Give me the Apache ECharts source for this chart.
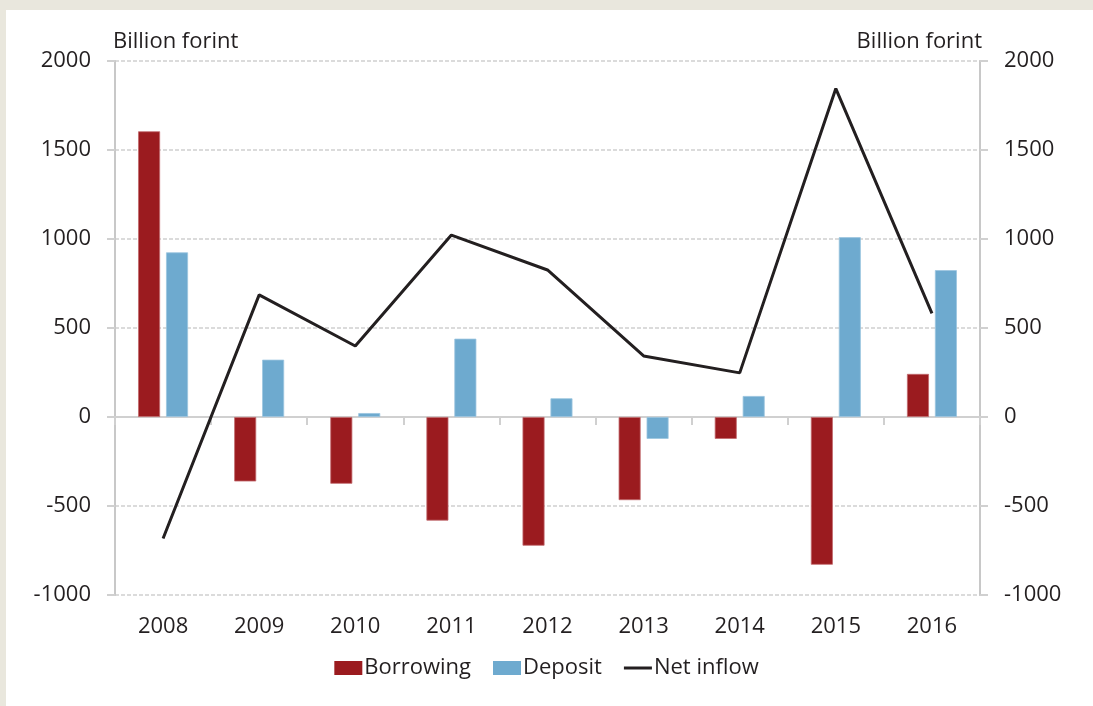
<!DOCTYPE html>
<html>
<head>
<meta charset="utf-8">
<script src="https://cdn.jsdelivr.net/npm/echarts@6/dist/echarts.min.js"></script>
<style>
  html, body { margin:0; padding:0; background:#e9e7dd; width:1093px; height:706px; overflow:hidden; }
  #panel { position:absolute; left:6px; top:10px; width:1087px; height:696px; background:#ffffff; }
  #chart { position:absolute; left:0; top:0; width:1093px; height:706px; }
</style>
</head>
<body>
<div id="panel"></div>
<div id="chart"></div>
<script>
const categories = ['2008','2009','2010','2011','2012','2013','2014','2015','2016'];
const borrowing = [1605, -362, -375, -582, -723, -467, -123, -830, 242];
const deposit = [925, 322, 22, 440, 105, -123, 118, 1010, 825];
const netInflow = [-683, 686, 399, 1022, 826, 343, 248, 1845, 582];
const yTicks = { min: -1000, max: 2000, interval: 500 };
const unitLabel = 'Billion forint';

const FONT = '"Open Sans", sans-serif';
const plain = v => String(v);
const chart = echarts.init(document.getElementById('chart'), null, { renderer: 'canvas' });
chart.setOption({
  backgroundColor: 'transparent',
  textStyle: { fontFamily: FONT },
  grid: { left: 115, right: 113, top: 61, bottom: 111, containLabel: false },
  legend: {
    bottom: 22,
    left: 'center',
    itemWidth: 28,
    itemHeight: 14,
    itemGap: 22,
    symbolKeepAspect: true,
    itemStyle: { borderWidth: 0 },
    textStyle: { fontFamily: FONT, fontSize: 22, color: '#231f20', padding: [0, 0, 0, -3] },
    data: [
      { name: 'Borrowing', icon: 'rect' },
      { name: 'Deposit', icon: 'rect' },
      { name: 'Net inflow', icon: 'path://M0,0L28,0L28,3L0,3Z' }
    ]
  },
  graphic: [
    { type: 'text', left: 113, top: 31, style: { text: unitLabel, font: '22px "Open Sans"', fill: '#231f20' } },
    { type: 'text', right: 1093 - 982, top: 31, style: { text: unitLabel, font: '22px "Open Sans"', fill: '#231f20', align: 'right' } }
  ],
  xAxis: [
    {
      type: 'category', data: categories, position: 'bottom',
      axisLine: { show: false }, axisTick: { show: false },
      axisLabel: { fontFamily: FONT, fontSize: 22, color: '#231f20', margin: 21 }
    },
    {
      type: 'category', data: categories, position: 'bottom',
      axisLine: { show: true, onZero: true, lineStyle: { color: '#d0d0d0', width: 2 } },
      axisTick: { show: true, length: 8, lineStyle: { color: '#d0d0d0', width: 2 } },
      axisLabel: { show: false }
    }
  ],
  yAxis: [
    {
      type: 'value', min: yTicks.min, max: yTicks.max, interval: yTicks.interval, position: 'left',
      axisLine: { show: true, lineStyle: { color: '#c8c8c8', width: 2 } },
      axisTick: { show: true, length: 8, lineStyle: { color: '#d0d0d0', width: 2 } },
      axisLabel: { fontFamily: FONT, fontSize: 22, color: '#231f20', margin: 24, formatter: plain },
      splitLine: { show: true, lineStyle: { color: '#cfcfcf', type: [4, 2], width: 1.5 } }
    },
    {
      type: 'value', min: yTicks.min, max: yTicks.max, interval: yTicks.interval, position: 'right',
      axisLine: { show: true, lineStyle: { color: '#c8c8c8', width: 2 } },
      axisTick: { show: true, length: 8, lineStyle: { color: '#d0d0d0', width: 2 } },
      axisLabel: { fontFamily: FONT, fontSize: 22, color: '#231f20', margin: 24, formatter: plain },
      splitLine: { show: false }
    }
  ],
  series: [
    {
      name: 'Borrowing', type: 'bar', data: borrowing, xAxisIndex: 0, yAxisIndex: 0,
      barWidth: 22, barGap: '27%',
      itemStyle: { color: '#9b1b1f', borderColor: '#c26a6d', borderWidth: 0.8 }
    },
    {
      name: 'Deposit', type: 'bar', data: deposit, xAxisIndex: 0, yAxisIndex: 0,
      barWidth: 22, barGap: '27%',
      itemStyle: { color: '#6eaacf', borderColor: '#9cc5df', borderWidth: 0.8 }
    },
    {
      name: 'Net inflow', type: 'line', data: netInflow, xAxisIndex: 0, yAxisIndex: 0,
      symbol: 'none', z: 5,
      lineStyle: { color: '#231f20', width: 3 },
      itemStyle: { color: '#231f20' }
    }
  ]
});
</script>
</body>
</html>
